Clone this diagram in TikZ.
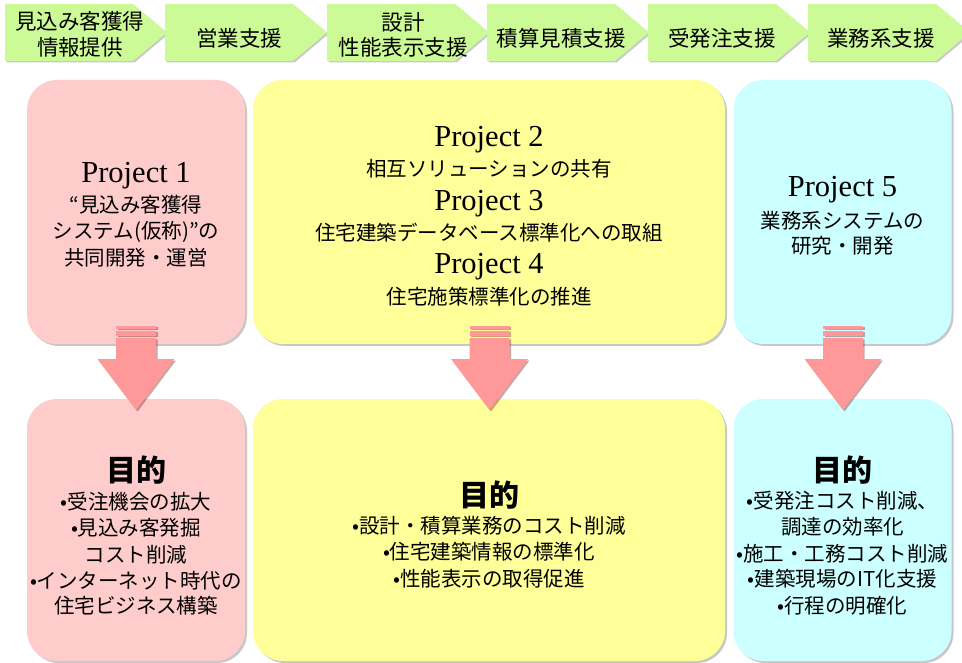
\documentclass[tikz,border=0pt]{standalone}
\usepackage{fontspec}
\setmainfont{Liberation Serif}
\newfontfamily\jp{Noto Sans CJK JP}
\usetikzlibrary{shadows}
\definecolor{chevgreen}{RGB}{204,250,150}
\definecolor{boxpink}{RGB}{255,204,204}
\definecolor{boxyellow}{RGB}{255,255,153}
\definecolor{boxcyan}{RGB}{204,255,255}
\definecolor{arrowpink}{RGB}{255,153,153}
\tikzset{
  chev/.style={fill=chevgreen, draw=none, drop shadow={shadow xshift=1.5pt, shadow yshift=-1.5pt, opacity=0.35, fill=black!60}},
  chevtext/.style={font=\jp\fontsize{21.5}{25.5}\selectfont, align=center, inner sep=0pt, anchor=center},
  boxbase/.style={draw=none, rounded corners=30pt, inner sep=0pt, drop shadow={shadow xshift=2pt, shadow yshift=-2pt, opacity=0.3, fill=black!70}},
  topbox/.style={boxbase, minimum width=218pt, minimum height=264pt},
  widebox/.style={boxbase, minimum width=472pt, minimum height=264pt},
  botbox/.style={boxbase, minimum width=218pt, minimum height=262pt},
  widebot/.style={boxbase, minimum width=472pt, minimum height=262pt},
  proj/.style={font=\fontsize{30.5}{32}\selectfont, inner sep=0pt, anchor=base},
  jtxt/.style={font=\jp\fontsize{20.5}{24}\selectfont, inner sep=0pt, anchor=center},
  goal/.style={font=\jp\bfseries\fontsize{30}{32}\selectfont, inner sep=0pt, anchor=center},
  blockarrow/.style={fill=arrowpink, draw=none, drop shadow={shadow xshift=1.5pt, shadow yshift=-1.5pt, opacity=0.35, fill=red!40!black}},
}
\newcommand{\chevron}[1]{%
  \path[chev] (#1,4) -- ++(128,0) -- ++(34,28.5) -- ++(-34,28.5) -- ++(-128,0) -- cycle;}
\newcommand{\pinkarrow}[2]{% #1 center x, #2 name
  \path[blockarrow] (#1-20,326) rectangle (#1+20,329);
  \path[blockarrow] (#1-20,331) rectangle (#1+20,336);
  \path[blockarrow] (#1-20,338) -- (#1+20,338) -- (#1+20,359) -- (#1+38.5,359)
     -- (#1,410) coordinate (#2) -- (#1-38.5,359) -- (#1-20,359) -- cycle;}
\begin{document}
\begin{tikzpicture}[x=1pt,y=-1pt]
\useasboundingbox (0,0) rectangle (962,663);
\fill[white] (0,0) rectangle (962,663);

% ---- top process chevrons ----
\chevron{5}
\chevron{165}
\chevron{327}
\chevron{487}
\chevron{648}
\chevron{808}
\node[chevtext] (c1) at (80,34.5) {見込み客獲得\\情報提供};
\node[chevtext] (c2) at (239,38) {営業支援};
\node[chevtext] (c3) at (403,35) {設計\\性能表示支援};
\node[chevtext] (c4) at (561,38) {積算見積支援};
\node[chevtext] (c5) at (722,38) {受発注支援};
\node[chevtext] (c6) at (881,38) {業務系支援};

% ---- project boxes ----
\node[topbox, fill=boxpink] (b1) at (136,212) {};
\node[widebox, fill=boxyellow] (b2) at (489,212) {};
\node[topbox, fill=boxcyan] (b3) at (842.5,212) {};

% ---- goal boxes ----
\node[botbox, fill=boxpink] (g1) at (136,530) {};
\node[widebot, fill=boxyellow] (g2) at (489,530) {};
\node[botbox, fill=boxcyan] (g3) at (842.5,530) {};

% ---- arrows ----
\pinkarrow{136}{a1}
\pinkarrow{489.5}{a2}
\pinkarrow{843}{a3}

% ---- project texts ----
\node[proj] (p1) at (136,183) {Project 1};
\node[jtxt] (p1a) at (136,205) {“見込み客獲得};
\node[jtxt] (p1b) at (136,232) {システム(仮称)”の};
\node[jtxt] (p1c) at (136,258) {共同開発・運営};

\node[proj] (p2) at (489,147) {Project 2};
\node[jtxt] (p2a) at (489,168.5) {相互ソリューションの共有};
\node[proj] (p3) at (489,210.5) {Project 3};
\node[jtxt] (p3a) at (489,233) {住宅建築データベース標準化への取組};
\node[proj] (p4) at (489,274) {Project 4};
\node[jtxt] (p4a) at (489,297) {住宅施策標準化の推進};

\node[proj] (p5) at (842.5,197) {Project 5};
\node[jtxt] (p5a) at (842.5,221) {業務系システムの};
\node[jtxt] (p5b) at (842.5,246) {研究・開発};

% ---- goal texts ----
\node[goal] (t1) at (136,470) {目的};
\node[jtxt] (t1a) at (136,501.5) {•受注機会の拡大};
\node[jtxt] (t1b) at (136,528) {•見込み客発掘};
\node[jtxt] (t1c) at (136,555) {コスト削減};
\node[jtxt] (t1d) at (136,581) {•インターネット時代の};
\node[jtxt] (t1e) at (136,606) {住宅ビジネス構築};

\node[goal] (t2) at (489,495) {目的};
\node[jtxt] (t2a) at (489,526) {•設計・積算業務のコスト削減};
\node[jtxt] (t2b) at (489,552) {•住宅建築情報の標準化};
\node[jtxt] (t2c) at (489,579) {•性能表示の取得促進};

\node[goal] (t3) at (842.5,470) {目的};
\node[jtxt] (t3a) at (842.5,501) {•受発注コスト削減、};
\node[jtxt] (t3b) at (842.5,527) {調達の効率化};
\node[jtxt] (t3c) at (842.5,554) {•施工・工務コスト削減};
\node[jtxt] (t3d) at (842.5,579) {•建築現場のIT化支援};
\node[jtxt] (t3e) at (842.5,606) {•行程の明確化};
\end{tikzpicture}
\end{document}
